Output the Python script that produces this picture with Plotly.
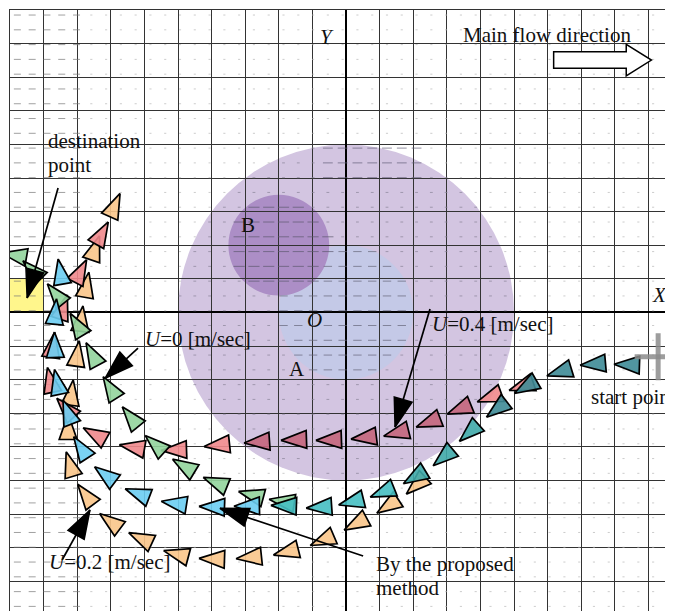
import numpy as np
import plotly.graph_objects as go

# ---------------- data (chart units) ----------------
# shared start segment (all methods overlap) - teal shades
teal_x = [8.48, 7.47, 6.46, 5.45, 4.58, 3.75, 2.98, 2.14, 1.19, 0.27, -0.68, -1.73]
teal_y = [-1.56, -1.53, -1.74, -2.16, -2.81, -3.50, -4.24, -4.84, -5.31, -5.61, -5.79, -5.76]
teal_h = [178, 185, 197, 210, 218, 222, 220, 211, 202, 194, 184, 178]
teal_shade = ["d", "d", "d", "d", "d", "m", "m", "m", "l", "l", "l", "l"]

# U = 0.4 m/s (pink; darker where it crosses the current region)
pink_x = [5.33, 4.38, 3.48, 2.56, 1.61, 0.65, -0.39, -1.43, -2.53, -3.72, -5.00, -6.25, -7.38, -8.27, -8.78, -8.75, -8.45, -7.95, -7.32]
pink_y = [-2.16, -2.49, -2.84, -3.23, -3.56, -3.71, -3.79, -3.79, -3.85, -3.94, -4.09, -4.03, -3.68, -2.93, -2.13, -1.09, 0.04, 1.12, 2.25]
pink_h = [199, 200, 202, 201, 194, 187, 182, 182, 184, 186, 182, 170, 151, 132, 102, 81, 72, 63, 61]
pink_shade = ["l", "l", "d", "d", "d", "d", "d", "d", "d", "l", "l", "l", "l", "l", "l", "l", "l", "l", "l"]

# U = 0.2 m/s (orange)
orange_x = [2.17, 1.34, 0.39, -0.60, -1.67, -2.77, -3.87, -4.94, -6.01, -6.93, -7.68, -8.18, -8.27, -8.18, -8.01, -7.89, -7.74, -7.50, -6.93]
orange_y = [-5.07, -5.70, -6.24, -6.74, -7.10, -7.28, -7.34, -7.22, -6.77, -6.29, -5.52, -4.63, -3.53, -2.51, -1.35, -0.31, 0.70, 1.80, 3.08]
orange_h = [222, 213, 208, 203, 194, 186, 178, 165, 155, 143, 127, 107, 90, 83, 82, 83, 80, 71, 66]

# U = 0 m/s (green)
green_x = [-1.79, -2.71, -3.78, -4.73, -5.60, -6.34, -6.96, -7.50, -7.95, -8.57, -9.26, -9.76]
green_y = [-5.64, -5.46, -5.10, -4.63, -4.00, -3.20, -2.34, -1.35, -0.46, 0.46, 1.18, 1.68]
green_h = [171, 165, 158, 149, 138, 129, 122, 118, 121, 129, 135, 170]

# proposed method (light blue)
blue_x = [-2.83, -3.87, -5.00, -6.10, -7.08, -7.83, -8.24, -8.57, -8.66, -8.66, -8.48]
blue_y = [-5.76, -5.79, -5.70, -5.43, -4.90, -4.12, -3.08, -2.19, -1.09, -0.10, 1.09]
blue_h = [181, 178, 171, 159, 143, 123, 111, 102, 92, 85, 100]

# regions
big_circle = (0.0, 0.0, 5.0)
circle_A = (0.0, 0.0, 2.0)
circle_B = (-2.0, 2.0, 1.5)
destination = (-10.0, 0.0, 1.0)     # x0, y0, size
start_point = (9.29, -1.32)

# ---------------- styles ----------------
SERIF = "Liberation Serif"
TRI_LEN, TRI_W = 0.76, 0.53
ALPHA = 0.9
COL = {
    "orange": (250, 197, 138),
    "pink_l": (240, 136, 140),
    "pink_d": (196, 101, 124),
    "green": (146, 212, 156),
    "blue": (108, 205, 242),
    "teal_d": (62, 139, 150),
    "teal_m": (63, 169, 168),
    "teal_l": (70, 191, 194),
}


def rgba(c, a=ALPHA):
    return "rgba(%d,%d,%d,%.2f)" % (c[0], c[1], c[2], a)


def tri_path(xs, ys, hs):
    px, py = [], []
    for x, y, h in zip(xs, ys, hs):
        a = np.radians(h)
        dx, dy = np.cos(a), np.sin(a)
        nx, ny = -dy, dx
        tx, ty = x + 2 / 3 * TRI_LEN * dx, y + 2 / 3 * TRI_LEN * dy
        bx, by = x - TRI_LEN / 3 * dx, y - TRI_LEN / 3 * dy
        px += [tx, bx + TRI_W / 2 * nx, bx - TRI_W / 2 * nx, tx, None]
        py += [ty, by + TRI_W / 2 * ny, by - TRI_W / 2 * ny, ty, None]
    return px, py


def sel(xs, ys, hs, shades, key):
    idx = [i for i, s in enumerate(shades) if s == key]
    return [xs[i] for i in idx], [ys[i] for i in idx], [hs[i] for i in idx]


fig = go.Figure()

# ---- background flow field (faint texture) ----
field_cols = np.arange(-9.78, 9.95, 0.44)
field_rows = np.arange(-8.75, 9.0, 0.44)
fx, fy, fs, fc = [], [], [], []
for xv in field_cols:
    for yv in field_rows:
        if xv < -7.95:
            s, c = 5, "#7a7a7a"
        elif (xv - circle_B[0]) ** 2 + (yv - circle_B[1]) ** 2 < circle_B[2] ** 2:
            s, c = 8, "#5e5a70"
        elif xv ** 2 + yv ** 2 < circle_A[2] ** 2:
            s, c = 6, "#66667a"
        elif -0.6 < xv < 2.3 and 3.6 < yv < 4.9:
            s, c = 7, "#66607a"
        elif xv ** 2 + yv ** 2 < big_circle[2] ** 2:
            s, c = 2, "#8a8498"
        else:
            s, c = 1.5, "#b8b8b8"
        fx.append(xv); fy.append(yv); fs.append(s); fc.append(c)
fig.add_trace(go.Scatter(x=fx, y=fy, mode="markers", hoverinfo="skip",
                         marker=dict(symbol="line-ew", size=fs, color=fc,
                                     line=dict(width=1, color=fc))))


def add_tris(xs, ys, hs, color):
    px, py = tri_path(xs, ys, hs)
    fig.add_trace(go.Scatter(x=px, y=py, mode="lines", fill="toself",
                             fillcolor=rgba(color), hoverinfo="skip",
                             line=dict(color="black", width=1.7)))


add_tris(orange_x, orange_y, orange_h, COL["orange"])
add_tris(*sel(pink_x, pink_y, pink_h, pink_shade, "l"), COL["pink_l"])
add_tris(*sel(pink_x, pink_y, pink_h, pink_shade, "d"), COL["pink_d"])
add_tris(green_x, green_y, green_h, COL["green"])
add_tris(blue_x, blue_y, blue_h, COL["blue"])
add_tris(*sel(teal_x, teal_y, teal_h, teal_shade, "d"), COL["teal_d"])
add_tris(*sel(teal_x, teal_y, teal_h, teal_shade, "m"), COL["teal_m"])
add_tris(*sel(teal_x, teal_y, teal_h, teal_shade, "l"), COL["teal_l"])

# ---- pointer arrows (tail -> tip) ----
pointers = [
    ((-8.57, 3.70), (-9.49, 0.43)),
    ((-6.19, -1.06), (-7.17, -1.96)),
    ((2.50, 0.10), (1.46, -3.41)),
    ((-8.45, -7.37), (-7.62, -5.88)),
    ((0.51, -7.25), (-3.75, -5.83)),
]
for (tx0, ty0), (tx1, ty1) in pointers:
    fig.add_trace(go.Scatter(x=[tx0, tx1], y=[ty0, ty1], mode="lines",
                             hoverinfo="skip",
                             line=dict(color="black", width=1.7)))
    fig.add_trace(go.Scatter(x=[tx0, tx1], y=[ty0, ty1], mode="markers",
                             hoverinfo="skip",
                             marker=dict(symbol=["circle", "arrow"], size=[0, 30],
                                         angleref="previous", color="black",
                                         opacity=1,
                                         line=dict(width=1.5, color="black"))))

# ---- shapes ----
shapes = []
for (cx, cy, r), col in [(big_circle, "rgb(211,197,225)"),
                         (circle_A, "rgb(196,201,231)"),
                         (circle_B, "rgb(172,142,198)")]:
    shapes.append(dict(type="circle", xref="x", yref="y", x0=cx - r, x1=cx + r,
                       y0=cy - r, y1=cy + r, fillcolor=col, line=dict(width=0),
                       layer="below"))
dx0, dy0, dsz = destination
shapes.append(dict(type="rect", xref="x", yref="y", x0=dx0, x1=dx0 + dsz, y0=dy0,
                   y1=dy0 + dsz, fillcolor="rgb(255,246,140)", line=dict(width=0),
                   layer="below"))
sx, sy = start_point
cross_col = "rgba(140,140,140,0.85)"
shapes.append(dict(type="line", xref="x", yref="y", x0=sx, x1=sx, y0=sy - 0.7,
                   y1=sy + 0.7, line=dict(color=cross_col, width=5), layer="above"))
shapes.append(dict(type="line", xref="x", yref="y", x0=sx - 0.7, x1=sx + 0.7,
                   y0=sy, y1=sy, line=dict(color=cross_col, width=5), layer="above"))
# main-flow block arrow
fa_x0, fa_xh, fa_xt = 6.18, 8.34, 9.09
fa_yc, fa_bh, fa_hh = 7.51, 0.245, 0.47
flow_path = ("M {a},{b1} L {h},{b1} L {h},{h1} L {t},{c} L {h},{h2} L {h},{b2} L {a},{b2} Z"
             .format(a=fa_x0, h=fa_xh, t=fa_xt, c=fa_yc, b1=fa_yc + fa_bh,
                     b2=fa_yc - fa_bh, h1=fa_yc + fa_hh, h2=fa_yc - fa_hh))
shapes.append(dict(type="path", xref="x", yref="y", path=flow_path,
                   fillcolor="white", line=dict(color="black", width=1.5)))

# ---- text ----
labels = [
    ("Main flow direction", 5.97, 8.26, "center"),
    ("<i>Y</i>", -0.57, 8.20, "center"),
    ("<i>X</i>", 9.33, 0.52, "center"),
    ("<i>O</i>", -0.95, -0.22, "center"),
    ("B", -2.92, 2.60, "center"),
    ("A", -1.46, -1.68, "center"),
    ("destination", -8.93, 5.10, "left"),
    ("point", -8.93, 4.39, "left"),
    ("<i>U</i>=0 [m/sec]", -6.04, -0.79, "left"),
    ("<i>U</i>=0.4 [m/sec]", 2.50, -0.34, "left"),
    ("<i>U</i>=0.2 [m/sec]", -8.90, -7.43, "left"),
    ("start point", 7.24, -2.51, "left"),
    ("By the proposed", 0.83, -7.49, "left"),
    ("method", 0.83, -8.20, "left"),
]
annotations = [dict(text=t, x=x, y=y, xref="x", yref="y", showarrow=False,
                    xanchor=xa, yanchor="middle",
                    font=dict(family=SERIF, size=21, color="#111111"))
               for t, x, y, xa in labels]

axis_common = dict(showticklabels=False, ticks="", dtick=1, tick0=0,
                   showgrid=True, gridcolor="#333333", gridwidth=1.2,
                   zeroline=True, zerolinecolor="black", zerolinewidth=2,
                   showline=True, linecolor="#333333", linewidth=1.2)

fig.update_layout(
    width=673, height=611,
    margin=dict(l=2, r=0, t=2, b=0),
    paper_bgcolor="white", plot_bgcolor="white",
    showlegend=False,
    xaxis=dict(range=[-10, 9.97], mirror=True, **axis_common),
    yaxis=dict(range=[-9.125, 9.0], **axis_common),
    shapes=shapes,
    annotations=annotations,
)

fig.write_html("out.html")
